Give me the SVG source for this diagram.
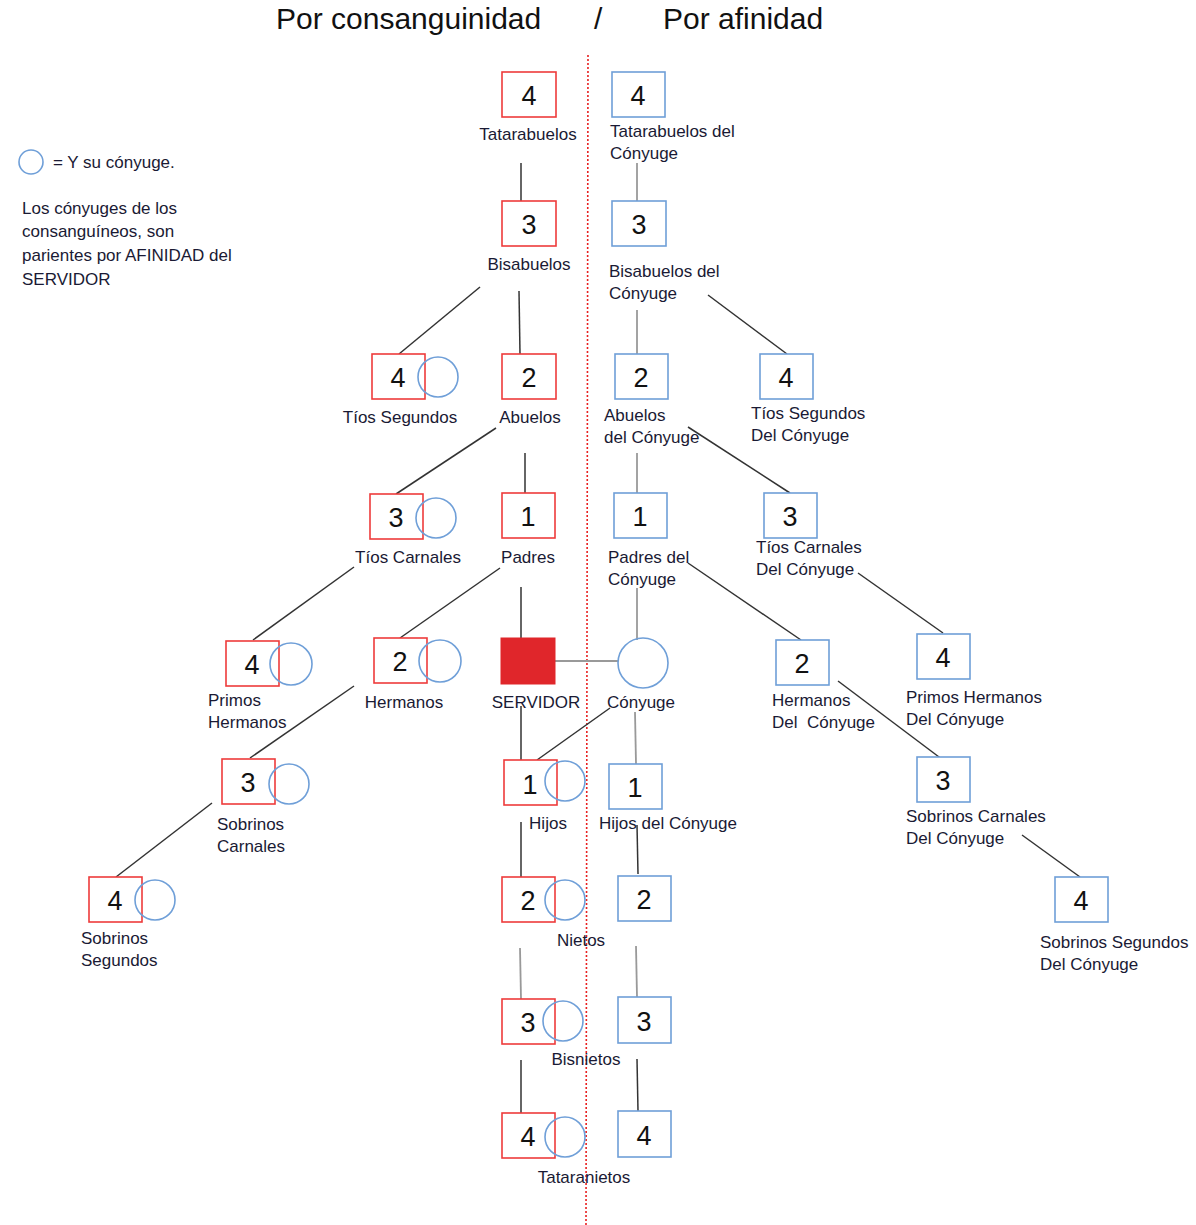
<svg xmlns="http://www.w3.org/2000/svg" width="1196" height="1225" viewBox="0 0 1196 1225">
<style>
text{font-family:"Liberation Sans",Arial,sans-serif;fill:#1a1a34}
.t{font-size:30px;fill:#111}
.l{font-size:17px}
.lg{font-size:17px}
.n{font-size:27px;fill:#111;text-anchor:middle}
.c{text-anchor:middle}
.r{fill:#fff;stroke:#ee3b3b;stroke-width:1.6}
.b{fill:#fff;stroke:#6f9fd8;stroke-width:1.6}
.o{fill:none;stroke:#6f9fd8;stroke-width:1.6}
.k{stroke:#333;stroke-width:1.5;fill:none}
.g{stroke:#999;stroke-width:1.8;fill:none}
</style>
<rect width="1196" height="1225" fill="#fff"/>
<g id="title">
<text class="t" x="276" y="29">Por consanguinidad</text>
<text class="t" x="594" y="29">/</text>
<text class="t" x="663" y="29">Por afinidad</text>
</g>
<line x1="588" y1="55" x2="586" y2="1225" stroke="#e82020" stroke-width="1.6" stroke-dasharray="2 2"/>
<g id="legend">
<circle class="o" cx="31" cy="162" r="12"/>
<text class="lg" x="53" y="168">= Y su cónyuge.</text>
<text class="lg" x="22" y="214">Los cónyuges de los</text>
<text class="lg" x="22" y="237">consanguíneos, son</text>
<text class="lg" x="22" y="261">parientes por AFINIDAD del</text>
<text class="lg" x="22" y="285">SERVIDOR</text>
</g>
<g id="connectors">
<line class="k" x1="521" y1="163" x2="521" y2="201"/>
<line class="g" x1="637" y1="163" x2="637" y2="201"/>
<line class="k" x1="480" y1="287" x2="399" y2="354"/>
<line class="k" x1="519" y1="291" x2="520" y2="354"/>
<line class="g" x1="637" y1="310" x2="637" y2="354"/>
<line class="k" x1="708" y1="295" x2="787" y2="354"/>
<line class="k" x1="496" y1="428" x2="396" y2="494"/>
<line class="k" x1="525" y1="453" x2="525" y2="493"/>
<line class="g" x1="637" y1="453" x2="637" y2="493"/>
<line class="k" x1="688" y1="427" x2="790" y2="493"/>
<line class="k" x1="354" y1="567" x2="253" y2="640"/>
<line class="k" x1="500" y1="568" x2="400" y2="638"/>
<line class="k" x1="521" y1="587" x2="521" y2="638"/>
<line class="g" x1="637" y1="588" x2="637" y2="640"/>
<line class="k" x1="688" y1="563" x2="801" y2="640"/>
<line class="k" x1="858" y1="573" x2="943" y2="633"/>
<line class="g" x1="555" y1="661" x2="618" y2="661"/>
<line class="k" x1="354" y1="686" x2="250" y2="758"/>
<line class="k" x1="521" y1="706" x2="521" y2="760"/>
<line class="k" x1="610" y1="708" x2="537" y2="760"/>
<line class="g" x1="635" y1="712" x2="636" y2="764"/>
<line class="k" x1="838" y1="681" x2="943" y2="760"/>
<line class="k" x1="212" y1="803" x2="116" y2="877"/>
<line class="k" x1="521" y1="822" x2="521" y2="877"/>
<line class="k" x1="637" y1="825" x2="638" y2="874"/>
<line class="k" x1="1022" y1="835" x2="1080" y2="877"/>
<line class="g" x1="520" y1="948" x2="521" y2="999"/>
<line class="g" x1="636" y1="946" x2="637" y2="997"/>
<line class="k" x1="521" y1="1060" x2="521" y2="1113"/>
<line class="k" x1="637" y1="1059" x2="638" y2="1111"/>
</g>
<g id="tatarabuelos">
<rect class="r" x="502" y="72" width="54" height="45"/>
<text class="n" x="529" y="105">4</text>
<text class="l c" x="528" y="140">Tatarabuelos</text>
</g>
<g id="tatarabuelos-conyuge">
<rect class="b" x="612" y="72" width="53" height="45"/>
<text class="n" x="638" y="105">4</text>
<text class="l" x="610" y="137">Tatarabuelos del</text>
<text class="l" x="610" y="159">Cónyuge</text>
</g>
<g id="bisabuelos">
<rect class="r" x="502" y="201" width="54" height="45"/>
<text class="n" x="529" y="234">3</text>
<text class="l c" x="529" y="270">Bisabuelos</text>
</g>
<g id="bisabuelos-conyuge">
<rect class="b" x="612" y="201" width="54" height="45"/>
<text class="n" x="639" y="234">3</text>
<text class="l" x="609" y="277">Bisabuelos del</text>
<text class="l" x="609" y="299">Cónyuge</text>
</g>
<g id="tios-segundos">
<rect class="r" x="372" y="354" width="53" height="45"/>
<circle class="o" cx="438" cy="377" r="20"/>
<text class="n" x="398" y="387">4</text>
<text class="l c" x="400" y="423">Tíos Segundos</text>
</g>
<g id="abuelos">
<rect class="r" x="502" y="354" width="54" height="45"/>
<text class="n" x="529" y="387">2</text>
<text class="l c" x="530" y="423">Abuelos</text>
</g>
<g id="abuelos-conyuge">
<rect class="b" x="615" y="354" width="53" height="45"/>
<text class="n" x="641" y="387">2</text>
<text class="l" x="604" y="421">Abuelos</text>
<text class="l" x="604" y="443">del Cónyuge</text>
</g>
<g id="tios-segundos-conyuge">
<rect class="b" x="760" y="354" width="53" height="45"/>
<text class="n" x="786" y="387">4</text>
<text class="l" x="751" y="419">Tíos Segundos</text>
<text class="l" x="751" y="441">Del Cónyuge</text>
</g>
<g id="tios-carnales">
<rect class="r" x="370" y="494" width="53" height="45"/>
<circle class="o" cx="436" cy="518" r="20"/>
<text class="n" x="396" y="527">3</text>
<text class="l c" x="408" y="563">Tíos Carnales</text>
</g>
<g id="padres">
<rect class="r" x="502" y="493" width="53" height="45"/>
<text class="n" x="528" y="526">1</text>
<text class="l c" x="528" y="563">Padres</text>
</g>
<g id="padres-conyuge">
<rect class="b" x="614" y="493" width="53" height="45"/>
<text class="n" x="640" y="526">1</text>
<text class="l" x="608" y="563">Padres del</text>
<text class="l" x="608" y="585">Cónyuge</text>
</g>
<g id="tios-carnales-conyuge">
<rect class="b" x="764" y="493" width="53" height="45"/>
<text class="n" x="790" y="526">3</text>
<text class="l" x="756" y="553">Tíos Carnales</text>
<text class="l" x="756" y="575">Del Cónyuge</text>
</g>
<g id="primos-hermanos">
<rect class="r" x="226" y="641" width="53" height="45"/>
<circle class="o" cx="291" cy="664" r="21"/>
<text class="n" x="252" y="674">4</text>
<text class="l" x="208" y="706">Primos</text>
<text class="l" x="208" y="728">Hermanos</text>
</g>
<g id="hermanos">
<rect class="r" x="374" y="638" width="53" height="45"/>
<circle class="o" cx="440" cy="661" r="21"/>
<text class="n" x="400" y="671">2</text>
<text class="l c" x="404" y="708">Hermanos</text>
</g>
<g id="servidor">
<rect x="501" y="638" width="54" height="46" fill="#e0262b" stroke="#e0262b" stroke-width="1"/>
<text class="l c" x="536" y="708">SERVIDOR</text>
</g>
<g id="conyuge">
<circle class="o" cx="643" cy="663" r="25"/>
<text class="l c" x="641" y="708">Cónyuge</text>
</g>
<g id="hermanos-conyuge">
<rect class="b" x="776" y="640" width="53" height="45"/>
<text class="n" x="802" y="673">2</text>
<text class="l" x="772" y="706">Hermanos</text>
<text class="l" x="772" y="728" xml:space="preserve">Del  Cónyuge</text>
</g>
<g id="primos-hermanos-conyuge">
<rect class="b" x="917" y="634" width="53" height="45"/>
<text class="n" x="943" y="667">4</text>
<text class="l" x="906" y="703">Primos Hermanos</text>
<text class="l" x="906" y="725">Del Cónyuge</text>
</g>
<g id="sobrinos-carnales">
<rect class="r" x="222" y="759" width="53" height="45"/>
<circle class="o" cx="289" cy="784" r="20"/>
<text class="n" x="248" y="792">3</text>
<text class="l" x="217" y="830">Sobrinos</text>
<text class="l" x="217" y="852">Carnales</text>
</g>
<g id="hijos">
<rect class="r" x="504" y="760" width="53" height="45"/>
<circle class="o" cx="565" cy="781" r="20"/>
<text class="n" x="530" y="794">1</text>
<text class="l c" x="548" y="829">Hijos</text>
</g>
<g id="hijos-conyuge">
<rect class="b" x="609" y="764" width="53" height="45"/>
<text class="n" x="635" y="797">1</text>
<text class="l" x="599" y="829">Hijos del Cónyuge</text>
</g>
<g id="sobrinos-carnales-conyuge">
<rect class="b" x="917" y="757" width="53" height="45"/>
<text class="n" x="943" y="790">3</text>
<text class="l" x="906" y="822">Sobrinos Carnales</text>
<text class="l" x="906" y="844">Del Cónyuge</text>
</g>
<g id="sobrinos-segundos">
<rect class="r" x="89" y="877" width="53" height="45"/>
<circle class="o" cx="155" cy="900" r="20"/>
<text class="n" x="115" y="910">4</text>
<text class="l" x="81" y="944">Sobrinos</text>
<text class="l" x="81" y="966">Segundos</text>
</g>
<g id="nietos">
<rect class="r" x="502" y="877" width="53" height="45"/>
<circle class="o" cx="565" cy="900" r="20"/>
<text class="n" x="528" y="910">2</text>
<text class="l c" x="581" y="946">Nietos</text>
</g>
<g id="nietos-conyuge">
<rect class="b" x="618" y="876" width="53" height="45"/>
<text class="n" x="644" y="909">2</text>
</g>
<g id="sobrinos-segundos-conyuge">
<rect class="b" x="1055" y="877" width="53" height="45"/>
<text class="n" x="1081" y="910">4</text>
<text class="l" x="1040" y="948">Sobrinos Segundos</text>
<text class="l" x="1040" y="970">Del Cónyuge</text>
</g>
<g id="bisnietos">
<rect class="r" x="502" y="999" width="53" height="45"/>
<circle class="o" cx="563" cy="1021" r="20"/>
<text class="n" x="528" y="1032">3</text>
<text class="l c" x="586" y="1065">Bisnietos</text>
</g>
<g id="bisnietos-conyuge">
<rect class="b" x="618" y="997" width="53" height="46"/>
<text class="n" x="644" y="1031">3</text>
</g>
<g id="tataranietos">
<rect class="r" x="502" y="1113" width="53" height="45"/>
<circle class="o" cx="565" cy="1137" r="20"/>
<text class="n" x="528" y="1146">4</text>
<text class="l c" x="584" y="1183">Tataranietos</text>
</g>
<g id="tataranietos-conyuge">
<rect class="b" x="618" y="1111" width="53" height="46"/>
<text class="n" x="644" y="1145">4</text>
</g>
</svg>
